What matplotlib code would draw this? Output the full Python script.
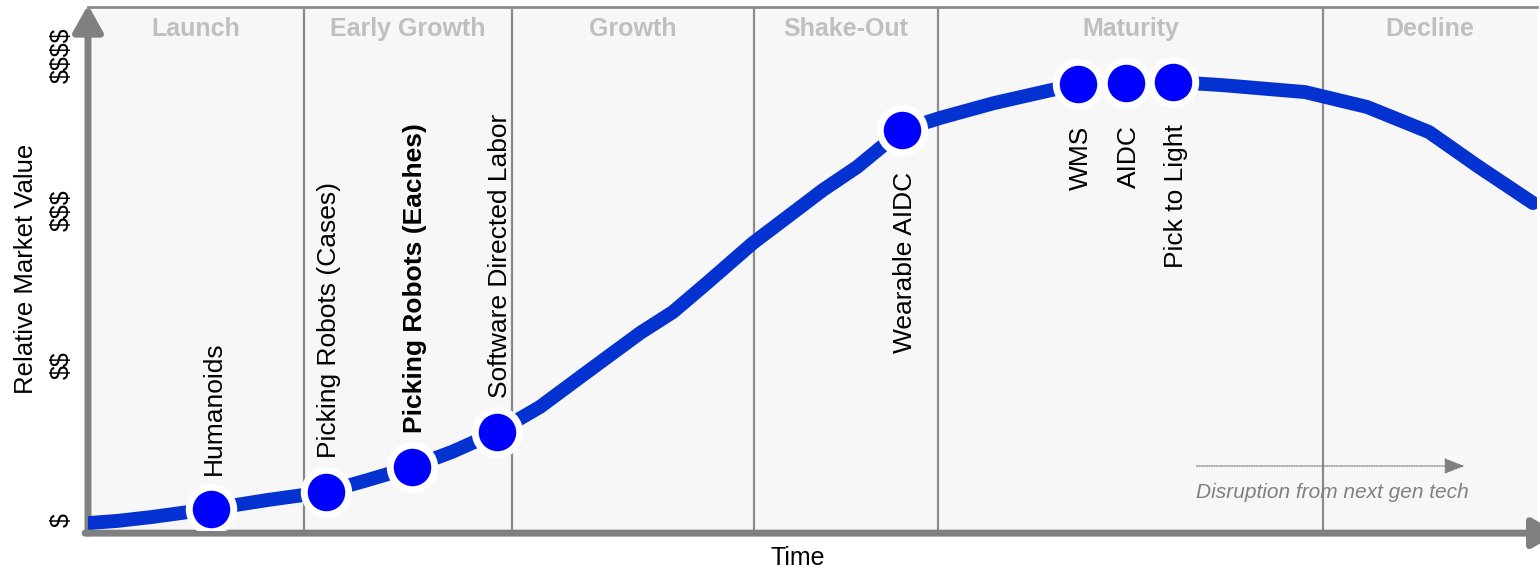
import matplotlib.pyplot as plt

plt.rcParams["font.family"] = ["Liberation Sans", "DejaVu Sans"]
plt.rcParams["text.parse_math"] = False

# adoption curve (time 0-100, value 0=$ ... 3=$$$$)
curve_x = [0.2, 2.07, 4.42, 8.49, 12.42, 16.43, 19.32, 22.36, 25.12, 28.23,
           31.19, 34.64, 38.10, 40.37, 42.72, 45.89, 48.45, 50.72, 53.07, 56.18,
           58.80, 62.53, 68.32, 71.64, 74.88, 78.26, 83.99, 88.27, 92.55, 96.00,
           99.72]
curve_y = [-0.019, -0.006, 0.019, 0.071, 0.129, 0.181, 0.258, 0.342, 0.439, 0.568,
           0.729, 0.968, 1.206, 1.342, 1.529, 1.787, 1.968, 2.129, 2.277, 2.516,
           2.594, 2.690, 2.813, 2.819, 2.826, 2.806, 2.761, 2.665, 2.503, 2.277,
           2.045]

tech_names = ["Humanoids", "Picking Robots (Cases)", "Picking Robots (Eaches)",
              "Software Directed Labor", "Wearable AIDC", "WMS", "AIDC", "Pick to Light"]
tech_x = [8.49, 16.43, 22.36, 28.23, 56.18, 68.32, 71.64, 74.88]
tech_y = [0.071, 0.181, 0.342, 0.568, 2.516, 2.813, 2.819, 2.826]
tech_bold = [False, False, True, False, False, False, False, False]
tech_above = [True, True, True, True, False, False, False, False]

phase_names = ["Launch", "Early Growth", "Growth", "Shake-Out", "Maturity", "Decline"]
phase_edges = [0, 14.91, 29.26, 45.96, 58.66, 85.23, 100]

value_ticks = [0, 1, 2, 3]
value_labels = ["$", "$$", "$$$", "$$$$"]

GRAY = "#808080"

fig = plt.figure(figsize=(15.4, 5.73), dpi=100)
ax = fig.add_axes([88 / 1540, 43 / 573, 1449 / 1540, 523 / 573])
ax.set_xlim(0, 100)
ax.set_ylim(-0.065, 3.31)
ax.set_facecolor("#F7F7F7")

for side in ["left", "bottom", "right"]:
    ax.spines[side].set_visible(False)
ax.spines["top"].set_color("#8C8C8C")
ax.spines["top"].set_linewidth(2)

# phase dividers and titles
for x in phase_edges[1:-1]:
    ax.axvline(x, color="#8A8A8A", lw=1.6, zorder=1)
for name, a, b in zip(phase_names, phase_edges[:-1], phase_edges[1:]):
    ax.text((a + b) / 2, 3.165, name, ha="center", va="center",
            fontsize=18, fontweight="bold", color="#BFBFBF")

# axis arrows
arrow = dict(arrowstyle="-|>,head_width=0.45,head_length=0.8", lw=5,
             color=GRAY, shrinkA=0, shrinkB=0, mutation_scale=20)
ax.annotate("", xy=(0, 1.004), xytext=(0, -0.006), xycoords="axes fraction",
            arrowprops=arrow, annotation_clip=False)
ax.annotate("", xy=(1.015, -0.006), xytext=(-0.002, -0.006), xycoords="axes fraction",
            arrowprops=arrow, annotation_clip=False)

# curve and technologies
ax.plot(curve_x, curve_y, color="#0332D0", lw=10, solid_capstyle="round",
        solid_joinstyle="round", zorder=3)
ax.plot(tech_x, tech_y, ls="none", marker="o", ms=32, mew=5,
        mfc="#0000FF", mec="white", zorder=4)
for name, x, y, bold, above in zip(tech_names, tech_x, tech_y, tech_bold, tech_above):
    ax.annotate(name, (x, y), xytext=(2, 24.5 if above else -30), textcoords="offset points",
                rotation=90, ha="center", va="bottom" if above else "top",
                fontsize=19, fontweight="bold" if bold else "normal", color="black", zorder=5)

# disruption note
ax.annotate("", xy=(95.0, 0.348), xytext=(76.5, 0.348),
            arrowprops=dict(arrowstyle="-|>,head_width=0.35,head_length=0.9", lw=0.9,
                            ls=(0, (1, 1)), color=GRAY, mutation_scale=14,
                            shrinkA=0, shrinkB=0))
ax.text(85.9, 0.174, "Disruption from next gen tech", ha="center", va="center",
        fontsize=15, style="italic", color=GRAY)

ax.set_xticks([])
ax.set_yticks(value_ticks, value_labels, rotation=90, va="center", fontsize=18)
ax.tick_params(axis="y", length=0, pad=10)

ax.set_ylabel("Relative Market Value", fontsize=18.5)
ax.yaxis.set_label_coords(-0.0345, 0.5)
ax.set_xlabel("Time", fontsize=18)
ax.xaxis.set_label_coords(0.49, -0.03)

fig.savefig("out.png", dpi=100)
